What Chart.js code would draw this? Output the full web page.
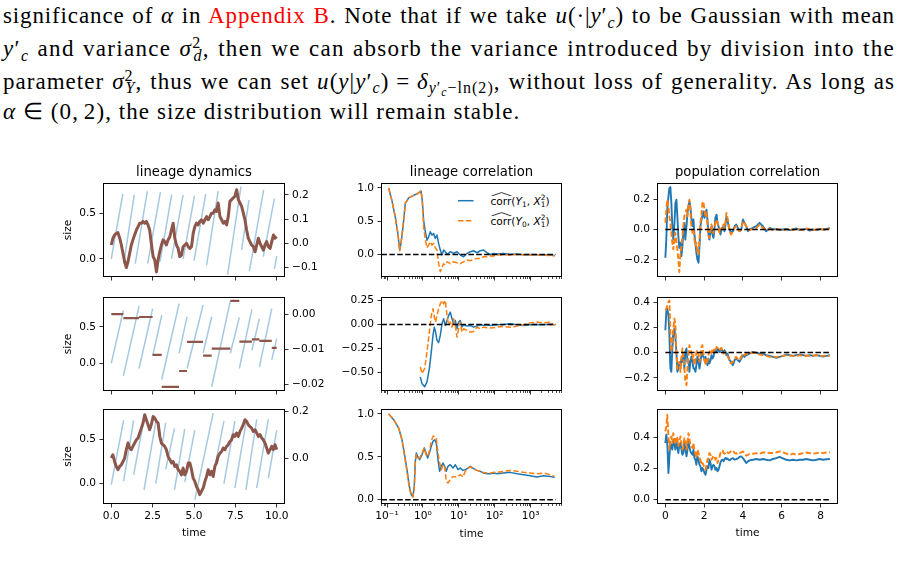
<!DOCTYPE html>
<html>
<head>
<meta charset="utf-8">
<script src="https://cdn.jsdelivr.net/npm/chart.js@4.4.1/dist/chart.umd.min.js"></script>
<style>
  html, body { margin:0; padding:0; background:#fff; }
  body { width:901px; height:587px; position:relative; overflow:hidden; }
  canvas { position:absolute; }
  .tl { position:absolute; left:3px; font-family:"Liberation Serif","Times New Roman",serif; font-size:23px; line-height:26px; height:26px; white-space:nowrap; color:#000; }
  .red { color:#ff0000; }
  .sb { position:relative; top:4.6px; font-size:16px; line-height:0; }
  .sp { position:relative; top:-8.3px; font-size:16px; line-height:0; }
  .sb2 { position:relative; top:3px; font-size:11.5px; line-height:0; }
  .lg { position:absolute; font-family:"DejaVu Sans",sans-serif; font-size:10.6px; line-height:12px; white-space:nowrap; color:#000; }
  .lg .s { position:relative; font-size:7.4px; line-height:0; }
  .hat { position:relative; display:inline-block; }
  .hat svg { position:absolute; left:0; top:-3px; }
</style>
</head>
<body>
<div class="tl" id="L1" style="top:3.3px">significance of <i>α</i> in <span class="red">Appendix B</span>. Note that if we take <i>u</i>(·|<i>y</i>′<span class="sb"><i>c</i></span>) to be Gaussian with mean</div>
<div class="tl" id="L2" style="top:36.3px"><i>y</i>′<span class="sb"><i>c</i></span> and variance <i>σ</i><span class="sp">2</span><span class="sb" style="margin-left:-8px"><i>d</i></span>, then we can absorb the variance introduced by division into the</div>
<div class="tl" id="L3" style="top:68.8px">parameter <i>σ</i><span class="sp">2</span><span class="sb" style="margin-left:-8px"><i>Y</i></span>, thus we can set <i>u</i>(<i>y</i>|<i>y</i>′<span class="sb"><i>c</i></span>)&#8197;=&#8197;<i>δ</i><span class="sb"><i>y</i>′<span class="sb2"><i>c</i></span>−ln(2)</span>, without loss of generality. As long as</div>
<div class="tl" id="L4" style="top:99.3px"><i>α</i>&#8197;∈&#8197;(0,&#8198;2), the size distribution will remain stable.</div>

<div class="lg" style="left:490.5px;top:194.5px"><span class="hat">corr<svg width="21" height="4"><polyline points="0.5,4 10.5,0.6 20.5,4" stroke="#000" stroke-width="0.8" fill="none"/></svg></span>(<i>Y</i><span class="s" style="top:2.6px">1</span>, <i>X</i><span class="s" style="top:2.6px">1</span><span class="s" style="top:-4.2px;margin-left:-4.7px">2</span>)</div>
<div class="lg" style="left:490.5px;top:214.5px"><span class="hat">corr<svg width="21" height="4"><polyline points="0.5,4 10.5,0.6 20.5,4" stroke="#000" stroke-width="0.8" fill="none"/></svg></span>(<i>Y</i><span class="s" style="top:2.6px">0</span>, <i>X</i><span class="s" style="top:2.6px">1</span><span class="s" style="top:-4.2px;margin-left:-4.7px">2</span>)</div>

<script>
// ================= DATA =================
// ---- column 1: lineage dynamics ----
const brownTimes = [0,0.10,0.20,0.30,0.40,0.51,0.61,0.71,0.81,0.91,1.01,1.11,1.21,1.31,1.41,1.52,1.62,1.72,1.82,1.92,
2.02,2.12,2.22,2.32,2.42,2.53,2.63,2.73,2.83,2.93,3.03,3.13,3.23,3.33,3.43,3.54,3.64,3.74,3.84,3.94,
4.04,4.14,4.24,4.34,4.44,4.55,4.65,4.75,4.85,4.95,5.05,5.15,5.25,5.35,5.45,5.56,5.66,5.76,5.86,5.96,
6.06,6.16,6.26,6.36,6.46,6.57,6.67,6.77,6.87,6.97,7.07,7.17,7.27,7.37,7.47,7.58,7.68,7.78,7.88,7.98,
8.08,8.18,8.28,8.38,8.48,8.59,8.69,8.79,8.89,8.99,9.09,9.19,9.29,9.39,9.49,9.60,9.70,9.80,9.90,10.0];

const r1Brown = [-0.007,0.021,0.034,0.041,0.044,0.021,-0.007,-0.042,-0.076,-0.100,
-0.076,-0.042,-0.007,0.014,0.034,0.055,0.069,0.083,0.083,0.090,
0.083,0.090,0.076,0.055,0.000,-0.055,-0.069,-0.118,-0.069,-0.035,
-0.007,0.014,0.007,-0.007,0.014,0.027,0.055,0.083,0.021,-0.007,
-0.021,-0.055,-0.049,-0.014,-0.007,0.000,-0.014,-0.021,-0.014,0.041,
0.069,0.083,0.076,0.090,0.097,0.083,0.097,0.110,0.097,0.110,
0.124,0.124,0.138,0.131,0.166,0.110,0.097,0.083,0.090,0.076,
0.110,0.173,0.180,0.187,0.193,0.221,0.180,0.166,0.152,0.124,
0.097,0.055,0.021,0.007,-0.007,-0.014,-0.035,-0.007,0.021,0.000,
-0.014,-0.028,-0.007,0.007,-0.014,-0.021,0.007,0.034,0.021,0.027];

const r3Brown = [0.000,0.014,-0.015,-0.036,-0.050,-0.036,-0.029,-0.015,0.000,0.036,
0.064,0.043,0.036,0.050,0.064,0.078,0.086,0.107,0.128,0.150,
0.185,0.164,0.143,0.121,0.143,0.178,0.171,0.157,0.150,0.093,
0.064,0.057,0.050,0.036,0.007,-0.007,-0.021,-0.015,-0.036,-0.029,
-0.050,-0.057,-0.072,-0.043,-0.072,-0.057,-0.021,-0.021,-0.050,-0.086,
-0.100,-0.122,-0.136,-0.157,-0.143,-0.128,-0.100,-0.079,-0.050,-0.072,
-0.057,-0.079,-0.036,-0.021,0.007,0.021,0.028,0.043,0.036,0.050,
0.057,0.071,0.078,0.100,0.093,0.107,0.093,0.114,0.128,0.143,
0.164,0.157,0.143,0.135,0.128,0.114,0.121,0.107,0.093,0.100,
0.086,0.078,0.064,0.043,0.021,0.036,0.050,0.036,0.057,0.036];

const r1BirthT    = [0, 0.75, 1.45, 2.2, 2.95, 3.64, 4.34, 5.0, 5.76, 7.03, 7.88, 8.35, 9.19, 9.86];
const r1DivT      = [0.70, 1.39, 2.18, 2.97, 3.65, 4.34, 5.03, 5.71, 6.46, 7.84, 8.32, 9.21, 9.86, 10.0];
const r1BirthSize = [0.0, -0.05, -0.05, -0.05, -0.03, 0.0, 0.0, -0.02, -0.07, -0.17, 0.10, -0.13, 0.025, -0.11];
const r1DivSize   = [0.71, 0.70, 0.74, 0.73, 0.70, 0.70, 0.69, 0.71, 0.74, 0.79, 0.645, 0.755, 0.66, 0.03];

const r2BirthT    = [0, 0.73, 1.68, 2.5, 3.05, 4.1, 4.58, 5.55, 6.07, 7.2, 7.74, 8.5, 8.95, 9.7];
const r2DivT      = [0.73, 1.68, 2.5, 3.05, 4.1, 4.58, 5.55, 6.07, 7.2, 7.74, 8.5, 8.95, 9.7, 10.0];
const r2BirthSize = [0.0, -0.17, -0.07, 0.10, -0.22, 0.14, -0.07, 0.14, -0.32, 0.14, -0.07, 0.18, -0.05, 0.05];
const r2DivSize   = [0.727, 0.786, 0.75, 0.66, 0.82, 0.64, 0.80, 0.64, 0.86, 0.63, 0.74, 0.61, 0.75, 0.34];
const r2Brown     = [0.0, -0.0011, -0.0008, -0.0116, -0.0207, -0.0162, -0.0079, -0.0118, -0.0098, 0.0038, -0.0078, -0.0072, -0.0076, -0.0096];

const r3BirthT    = [0, 0.745, 1.35, 1.98, 2.69, 3.29, 3.82, 4.44, 5.05, 6.16, 6.81, 7.47, 8.14, 8.79, 9.49];
const r3DivT      = [0.745, 1.35, 1.98, 2.69, 3.29, 3.82, 4.44, 5.05, 6.16, 6.81, 7.47, 8.14, 8.79, 9.49, 10.0];
const r3BirthSize = [-0.01, 0.03, 0.10, -0.07, 0.0, 0.16, -0.07, 0.02, -0.18, 0.10, 0.0, -0.05, -0.07, -0.05, 0.06];
const r3DivSize   = [0.71, 0.71, 0.72, 0.69, 0.68, 0.62, 0.61, 0.60, 0.79, 0.70, 0.70, 0.68, 0.72, 0.72, 0.60];

// ---- column 2: lineage correlation (log time) ----
const r1c2Times = [0.111,0.137,0.170,0.202,0.225,0.245,0.279,0.324,0.401,0.55,0.713,0.883,0.962,1.047,1.17,1.30,1.44,1.61,1.79,1.99,
2.21,2.47,2.74,3.05,3.40,3.78,4.21,4.69,5.80,7.18,8.89,11.0,13.6,16.9,20.9,25.9,32.1,39.7,49.2,61.0,
75.4,93.3,116,177,272,417,640,977,1503,2307,3540,4680];
const r1c2Blue = [1.0,0.81,0.56,0.30,0.065,0.166,0.415,0.77,0.85,0.89,0.915,0.955,0.81,0.51,0.34,0.215,0.265,0.34,0.29,0.315,
0.24,0.29,0.166,0.065,-0.01,0.065,0.04,0.0,0.04,0.015,0.04,-0.01,-0.035,0.015,0.04,0.055,0.025,0.055,0.065,0.025,
0.0,0.015,0.005,0.015,0.0,0.005,-0.005,0.0,-0.005,-0.01,-0.005,-0.015];
const r1c2Orange = [1.0,0.81,0.56,0.315,0.055,0.166,0.415,0.77,0.85,0.89,0.915,0.955,0.81,0.415,0.215,0.10,0.14,0.19,0.14,0.166,
0.10,0.065,-0.14,-0.26,-0.19,-0.14,-0.16,-0.11,-0.14,-0.11,-0.125,-0.14,-0.11,-0.085,-0.095,-0.075,-0.06,-0.06,-0.035,-0.035,
-0.02,-0.025,-0.01,-0.005,-0.01,0.0,-0.005,-0.01,-0.005,-0.01,-0.015,-0.025];

const r2c2Times = [0.847,0.942,1.117,1.30,1.51,1.71,1.91,2.08,2.26,2.47,2.74,3.05,3.40,3.78,4.21,4.69,5.21,5.80,6.45,7.18,
8.0,8.89,9.89,11.0,12.2,13.6,16.9,20.9,25.9,32.1,39.7,49.2,61.0,75.4,116,177,272,417,640,977,1503,2307,3540,4680];
const r2c2Blue = [-0.543,-0.612,-0.646,-0.594,-0.457,-0.286,-0.114,-0.028,-0.079,-0.165,-0.189,-0.114,0.007,0.058,-0.01,0.041,0.093,0.127,0.058,0.007,
0.041,-0.045,0.024,0.041,-0.028,-0.003,-0.017,-0.01,-0.028,-0.017,-0.003,-0.01,-0.003,-0.01,-0.003,0.0,0.007,-0.003,-0.01,-0.003,
0.0,-0.003,0.003,-0.003];
const r2c2Orange = [-0.44,-0.509,-0.457,-0.286,-0.079,0.093,0.162,0.076,0.024,0.093,0.162,0.213,0.248,0.213,0.248,0.093,-0.01,0.024,-0.028,0.058,
-0.01,-0.131,-0.045,0.024,-0.079,-0.045,-0.062,-0.079,-0.072,-0.028,-0.045,-0.028,-0.034,-0.038,-0.028,-0.021,-0.028,-0.017,-0.003,0.017,
0.024,0.017,0.024,-0.01];

const r3c2Times = [0.111,0.153,0.211,0.261,0.303,0.360,0.418,0.475,0.528,0.575,0.614,0.655,0.713,0.811,0.942,1.094,1.22,1.355,1.51,1.71,
1.91,2.12,2.36,2.63,2.92,3.26,3.62,4.03,4.49,4.99,5.80,6.88,8.0,9.48,11.0,13.1,15.2,18.0,20.9,25.9,
32.1,39.7,49.2,61.0,75.4,93.3,116,177,272,417,640,977,1503,2307,3540,4680];
const r3c2Blue = [1.0,0.934,0.836,0.70,0.544,0.35,0.156,0.058,0.039,0.156,0.447,0.544,0.505,0.467,0.525,0.603,0.544,0.486,0.544,0.622,
0.681,0.70,0.661,0.467,0.331,0.389,0.428,0.389,0.331,0.389,0.408,0.369,0.408,0.35,0.369,0.342,0.35,0.369,0.389,0.362,
0.342,0.331,0.311,0.304,0.304,0.311,0.304,0.311,0.319,0.304,0.292,0.28,0.265,0.28,0.272,0.26];
const r3c2Orange = [1.0,0.934,0.836,0.70,0.525,0.331,0.136,0.047,0.031,0.136,0.428,0.525,0.486,0.486,0.544,0.603,0.525,0.505,0.564,0.681,
0.739,0.739,0.72,0.544,0.428,0.35,0.408,0.389,0.214,0.195,0.233,0.272,0.265,0.272,0.292,0.265,0.331,0.369,0.381,0.362,
0.342,0.331,0.319,0.311,0.311,0.319,0.319,0.331,0.342,0.331,0.319,0.311,0.304,0.311,0.292,0.272];
const corrZeroSpan = [0.07, 5000];

// ---- column 3: population correlation ----
const c3Times = [0.00,0.05,0.10,0.16,0.21,0.26,0.31,0.36,0.41,0.47,0.52,0.57,0.62,0.67,0.72,0.78,0.83,0.88,0.93,0.98,
1.03,1.09,1.14,1.19,1.24,1.29,1.34,1.40,1.45,1.50,1.55,1.60,1.65,1.71,1.76,1.81,1.86,1.91,1.96,2.02,
2.07,2.12,2.17,2.22,2.27,2.33,2.38,2.43,2.48,2.53,2.58,2.64,2.69,2.74,2.79,2.84,2.89,2.95,3.00,3.05,
3.10,3.15,3.20,3.26,3.31,3.39,3.48,3.57,3.65,3.74,3.82,3.91,4.00,4.08,4.17,4.26,4.34,
4.51,4.69,4.86,5.03,5.20,5.38,5.55,5.72,5.89,6.06,6.24,6.41,6.58,6.75,6.93,7.10,7.27,7.44,7.61,7.79,7.96,8.13,8.30,8.48];

const r1c3Blue = [-0.186,-0.066,0.131,0.219,0.274,0.280,0.175,0.022,-0.066,0.044,
0.175,0.197,0.087,-0.044,-0.120,-0.087,-0.175,-0.109,-0.022,0.044,
-0.066,0.022,0.109,0.153,0.186,0.153,0.077,0.022,0.066,-0.033,
-0.087,-0.153,-0.197,-0.219,-0.109,0.022,0.066,0.087,0.120,0.077,
0.109,0.131,0.066,-0.022,-0.066,-0.011,0.022,-0.033,-0.055,0.000,
0.077,0.098,0.044,0.022,-0.011,-0.033,0.000,0.011,0.022,-0.011,
0.033,0.087,0.066,0.022,0.000,
-0.022,-0.011,0.022,0.033,0.011,-0.011,0.000,0.066,0.044,0.022,-0.011,0.000,
0.011,0.022,0.044,0.022,-0.011,0.011,0.000,0.004,-0.004,0.000,0.004,-0.004,0.000,0.007,-0.004,0.000,0.004,-0.007,0.000,-0.004,0.004,0.000,0.004,0.009];
const r1c3Orange = [0.044,0.131,0.197,0.153,0.087,0.044,-0.022,-0.087,-0.131,-0.066,
-0.022,-0.087,-0.131,-0.197,-0.280,-0.153,-0.109,-0.044,0.022,0.087,
0.109,0.131,0.087,0.164,0.197,0.131,0.022,-0.022,0.000,-0.066,
-0.109,-0.087,-0.142,-0.164,-0.066,0.044,0.098,0.175,0.186,0.131,
0.087,0.109,0.044,-0.044,-0.055,0.000,0.033,-0.011,-0.022,0.011,
0.044,0.066,0.044,0.011,-0.022,-0.011,0.011,0.000,0.033,0.011,
0.055,0.109,0.077,0.044,-0.011,
-0.033,-0.011,0.011,0.022,0.000,-0.011,0.000,0.055,0.044,0.022,0.000,-0.004,
0.004,0.011,0.033,0.011,-0.004,0.004,-0.004,0.000,0.000,-0.004,0.000,0.004,-0.004,0.004,0.000,-0.004,0.007,0.000,-0.004,0.000,0.009,0.000,0.000,0.007];

const r2c3Blue = [0.176,0.321,0.348,0.295,0.137,-0.127,-0.153,0.032,0.163,0.190,
0.111,0.005,-0.153,-0.127,-0.074,-0.100,-0.048,-0.074,-0.021,-0.127,
0.005,0.032,-0.074,-0.061,-0.153,-0.074,-0.034,-0.074,-0.127,-0.127,
-0.153,-0.100,-0.034,-0.074,-0.127,-0.074,-0.021,0.005,-0.034,-0.061,
-0.034,-0.074,-0.100,-0.048,-0.087,-0.061,-0.021,-0.048,-0.034,0.005,
0.018,0.005,0.032,0.018,0.005,0.018,0.032,0.010,0.005,0.018,
0.005,-0.021,-0.008,-0.034,-0.061,
-0.074,-0.100,-0.061,-0.048,-0.061,-0.074,-0.048,-0.021,-0.034,-0.021,-0.016,-0.008,
0.005,-0.003,-0.008,-0.008,-0.021,-0.027,-0.034,-0.042,-0.034,-0.027,-0.016,-0.021,-0.027,-0.021,-0.016,-0.021,-0.027,-0.021,-0.027,-0.021,-0.027,-0.032,-0.027,-0.021];
const r2c3Orange = [0.334,0.348,0.374,0.400,0.413,0.163,0.005,0.084,0.190,0.269,
0.216,0.005,-0.127,-0.100,-0.074,-0.153,-0.048,0.032,-0.034,-0.127,
-0.219,-0.259,-0.127,-0.021,0.058,0.032,0.005,-0.048,-0.021,-0.100,
-0.061,0.005,0.018,-0.021,-0.074,-0.034,0.044,0.058,-0.008,-0.061,
-0.100,-0.048,-0.074,-0.021,0.005,0.018,-0.008,0.032,0.005,0.032,
0.018,0.044,0.037,0.026,0.018,0.032,0.037,0.005,-0.008,0.005,
-0.008,-0.021,-0.021,-0.048,-0.079,
-0.087,-0.074,-0.048,-0.034,-0.053,-0.061,-0.034,-0.008,-0.021,-0.008,-0.011,-0.008,
0.000,-0.008,-0.016,-0.021,-0.027,-0.034,-0.032,-0.037,-0.029,-0.027,-0.021,-0.024,-0.029,-0.027,-0.021,-0.027,-0.024,-0.027,-0.024,-0.021,-0.027,-0.027,-0.024,-0.027];

const r3c3Blue = [0.363,0.417,0.363,0.171,0.278,0.363,0.342,0.321,0.385,0.353,
0.321,0.374,0.342,0.299,0.353,0.363,0.321,0.288,0.299,0.363,
0.331,0.278,0.321,0.374,0.342,0.310,0.299,0.288,0.321,0.267,
0.256,0.224,0.278,0.256,0.224,0.214,0.182,0.203,0.192,0.171,
0.160,0.192,0.214,0.203,0.256,0.235,0.192,0.214,0.224,0.214,
0.192,0.203,0.182,0.192,0.214,0.239,0.252,0.256,0.246,0.261,
0.267,0.261,0.265,0.256,0.252,
0.261,0.267,0.256,0.261,0.265,0.274,0.278,0.267,0.252,0.235,0.246,0.252,
0.256,0.261,0.256,0.261,0.256,0.252,0.261,0.267,0.274,0.265,0.256,0.252,0.256,0.252,0.256,0.256,0.261,0.256,0.252,0.256,0.261,0.256,0.259,0.261];
const r3c3Orange = [0.438,0.470,0.545,0.406,0.321,0.385,0.406,0.363,0.427,0.385,
0.353,0.406,0.395,0.342,0.374,0.406,0.363,0.321,0.342,0.395,
0.385,0.321,0.363,0.427,0.395,0.353,0.342,0.331,0.363,0.310,
0.299,0.267,0.321,0.299,0.267,0.256,0.224,0.235,0.224,0.203,
0.192,0.224,0.256,0.267,0.299,0.288,0.256,0.267,0.282,0.278,
0.256,0.267,0.235,0.256,0.274,0.299,0.310,0.316,0.299,0.295,
0.299,0.310,0.303,0.299,0.303,
0.310,0.316,0.299,0.295,0.303,0.299,0.303,0.310,0.299,0.282,0.288,0.293,
0.295,0.299,0.295,0.303,0.303,0.299,0.299,0.303,0.310,0.303,0.295,0.288,0.295,0.288,0.293,0.299,0.303,0.299,0.295,0.299,0.303,0.299,0.303,0.304];

// ---- tick values ----
const c1XTicks = [0, 2.5, 5, 7.5, 10];
const c1LeftTicks = [0, 0.5];
const r1c1RightTicks = [-0.1, 0, 0.1, 0.2];
const r2c1RightTicks = [-0.02, -0.01, 0];
const r3c1RightTicks = [0, 0.2];
const c2XMajor = [0.1, 1, 10, 100, 1000];
const c2XLabels = ['10\u207B\u00B9', '10\u2070', '10\u00B9', '10\u00B2', '10\u00B3'];
const r1c2YTicks = [0, 0.5, 1.0];
const r2c2YTicks = [-0.5, -0.25, 0, 0.25];
const r3c2YTicks = [0, 0.5, 1.0];
const c3XTicks = [0, 2, 4, 6, 8];
const r1c3YTicks = [-0.2, 0, 0.2];
const r2c3YTicks = [-0.2, 0, 0.2, 0.4];
const r3c3YTicks = [0, 0.2, 0.4];

// ================= RENDERING =================
const INK = '#000';
const BLUE = '#1f77b4', ORANGE = '#ff7f0e', BROWN = '#8c564b', LIGHTBLUE = 'rgba(31,119,180,0.4)';
const DASH = [5.5, 2.4];
const ML = 55, MR = 45, MT = 25, MB = 45;
Chart.defaults.font.family = "'DejaVu Sans', sans-serif";
Chart.defaults.font.size = 10.6;
Chart.defaults.color = INK;

const C1 = {l:103, r:285}, C2 = {l:381, r:562}, C3 = {l:657, r:838};
const R1 = {t:183, b:277}, R2 = {t:297, b:391}, R3 = {t:409, b:504};

const fmt = d => v => { const s = Number(v).toFixed(d); return s.charAt(0) === '-' ? '\u2212' + s.slice(1) : s; };
const pts = (xs, ys) => xs.map((x, i) => ({ x: x, y: ys[i] }));
function segs(t0, t1, v0, v1) {
  const out = [];
  t0.forEach((t, i) => { out.push({x: t, y: v0[i]}, {x: t1[i], y: v1[i]}, {x: t1[i], y: null}); });
  return out;
}

// log minor ticks (axis decoration)
const c2XMinor = [];
[0.01, 0.1, 1, 10, 100, 1000].forEach(p => { for (let k = 2; k <= 9; k++) c2XMinor.push(+(p * k).toPrecision(3)); });

const deco = {
  id: 'deco',
  afterDatasetsDraw(chart, args, o) {
    const ctx = chart.ctx, a = chart.chartArea;
    ctx.save();
    if (o.minor) {
      const sx = chart.scales.x;
      ctx.strokeStyle = INK; ctx.lineWidth = 0.7;
      o.minor.forEach(v => {
        if (v < sx.min || v > sx.max) return;
        const px = Math.round(sx.getPixelForValue(v)) + 0.5;
        ctx.beginPath(); ctx.moveTo(px, a.bottom); ctx.lineTo(px, a.bottom + 2); ctx.stroke();
      });
    }
    if (o.legend) {
      const x0 = a.left + 77, x1 = a.left + 92.5;
      ctx.lineWidth = 1.5;
      ctx.strokeStyle = BLUE; ctx.setLineDash([]);
      ctx.beginPath(); ctx.moveTo(x0, a.top + 17.7); ctx.lineTo(x1, a.top + 17.7); ctx.stroke();
      ctx.strokeStyle = ORANGE; ctx.setLineDash(DASH);
      ctx.beginPath(); ctx.moveTo(x0, a.top + 37.7); ctx.lineTo(x1, a.top + 37.7); ctx.stroke();
      ctx.setLineDash([]);
    }
    ctx.strokeStyle = INK; ctx.lineWidth = 1;
    ctx.strokeRect(a.left + 0.5, a.top + 0.5, a.right - a.left - 1, a.bottom - a.top - 1);
    if (o.title) {
      ctx.fillStyle = INK; ctx.font = "13.2px 'DejaVu Sans'";
      ctx.textAlign = 'center'; ctx.textBaseline = 'alphabetic';
      ctx.fillText(o.title, (a.left + a.right) / 2, a.top - 6.7);
    }
    ctx.restore();
  }
};

function axis(o) {
  const ax = {
    type: o.type || 'linear', position: o.position, min: o.min, max: o.max, bounds: 'data',
    afterFit: s => { if (s.isHorizontal()) s.height = MB; else s.width = (o.position === 'right' ? MR : ML); },
    afterBuildTicks: s => { s.ticks = o.ticks.map(v => ({ value: v })); },
    ticks: { display: o.labels !== false, callback: o.fmt, padding: o.pad, autoSkip: false, maxRotation: 0, minRotation: 0, color: INK, font: { size: 10.6 } },
    grid: { display: true, drawOnChartArea: false, drawTicks: true, tickLength: 3.5, tickColor: INK, tickWidth: 0.8 },
    border: { display: false },
    title: { display: false }
  };
  if (o.title) ax.title = { display: true, text: o.title, color: INK, font: { size: 10.6 }, padding: o.titlePad };
  return ax;
}

function makePanel(col, row, datasets, scales, decoOpts, hasRight) {
  const W = col.r - col.l + ML + MR, H = row.b - row.t + MT + MB;
  const cv = document.createElement('canvas');
  cv.width = W; cv.height = H;
  cv.style.left = (col.l - ML) + 'px'; cv.style.top = (row.t - MT) + 'px';
  cv.style.width = W + 'px'; cv.style.height = H + 'px';
  document.body.appendChild(cv);
  return new Chart(cv.getContext('2d'), {
    type: 'line',
    data: { datasets: datasets },
    options: {
      responsive: false, animation: false, devicePixelRatio: 1,
      layout: { padding: { left: 0, top: MT, right: hasRight ? 0 : MR, bottom: 0 } },
      plugins: { legend: { display: false }, tooltip: { enabled: false }, deco: decoOpts },
      elements: { point: { radius: 0 }, line: { tension: 0 } },
      scales: scales
    },
    plugins: [deco]
  });
}

const line = (data, color, width, dash, yAxisID) => ({ data: data, borderColor: color, borderWidth: width, borderDash: dash || [], pointRadius: 0, fill: false, spanGaps: false, yAxisID: yAxisID || 'y', borderCapStyle: 'butt', borderJoinStyle: 'round' });

// ---------- column 1 ----------
function col1(row, isLast, leftRange, rightRange, rightTicks, rightDec, blueData, brownData, brownWidth, title) {
  makePanel(C1, row, [
    line(brownData, BROWN, brownWidth, null, 'y2'),
    line(blueData, LIGHTBLUE, 1.5, null, 'y')
  ], {
    x: axis({ position: 'bottom', min: -0.5, max: 10.5, ticks: c1XTicks, fmt: fmt(1), labels: isLast, pad: 2, title: isLast ? 'time' : null, titlePad: { top: 0, bottom: 9.6 } }),
    y: axis({ position: 'left', min: leftRange[0], max: leftRange[1], ticks: c1LeftTicks, fmt: fmt(1), pad: 3.5, title: 'size', titlePad: { top: 13.9, bottom: 0 } }),
    y2: axis({ position: 'right', min: rightRange[0], max: rightRange[1], ticks: rightTicks, fmt: fmt(rightDec), pad: 3.5 })
  }, { title: title }, true);
}
col1(R1, false, [-0.197, 0.83], [-0.139, 0.2486], r1c1RightTicks, 1,
  segs(r1BirthT, r1DivT, r1BirthSize, r1DivSize), pts(brownTimes, r1Brown), 3, 'lineage dynamics');
col1(R2, false, [-0.378, 0.91], [-0.0219, 0.0049], r2c1RightTicks, 2,
  segs(r2BirthT, r2DivT, r2BirthSize, r2DivSize), segs(r2BirthT, r2DivT, r2Brown, r2Brown), 2.2, null);
col1(R3, true, [-0.227, 0.836], [-0.197, 0.210], r3c1RightTicks, 1,
  segs(r3BirthT, r3DivT, r3BirthSize, r3DivSize), pts(brownTimes, r3Brown), 3, null);

// ---------- column 2 ----------
function col2(row, isLast, yRange, yTicks, yDec, xs, blue, orange, opts) {
  makePanel(C2, row, [
    line(pts(corrZeroSpan, [0, 0]), INK, 1.5, DASH),
    line(pts(xs, orange), ORANGE, 1.5, DASH),
    line(pts(xs, blue), BLUE, 1.5)
  ], {
    x: axis({ type: 'logarithmic', position: 'bottom', min: 0.068, max: 7500, ticks: c2XMajor, fmt: v => c2XLabels[c2XMajor.indexOf(v)] || '', labels: isLast, pad: 2, title: isLast ? 'time' : null, titlePad: { top: 0, bottom: 8.5 } }),
    y: axis({ position: 'left', min: yRange[0], max: yRange[1], ticks: yTicks, fmt: fmt(yDec), pad: 3.5 })
  }, Object.assign({ minor: c2XMinor }, opts), false);
}
col2(R1, false, [-0.34, 1.075], r1c2YTicks, 1, r1c2Times, r1c2Blue, r1c2Orange, { title: 'lineage correlation', legend: true });
col2(R2, false, [-0.689, 0.284], r2c2YTicks, 2, r2c2Times, r2c2Blue, r2c2Orange, {});
col2(R3, true, [-0.05, 1.058], r3c2YTicks, 1, r3c2Times, r3c2Blue, r3c2Orange, {});

// ---------- column 3 ----------
function col3(row, isLast, yRange, yTicks, blue, orange, title) {
  const zero = pts([c3Times[0], c3Times[c3Times.length - 1]], [0, 0]);
  makePanel(C3, row, [
    line(zero, INK, 1.5, DASH),
    line(pts(c3Times, orange), ORANGE, 1.9, DASH),
    line(pts(c3Times, blue), BLUE, 1.9)
  ], {
    x: axis({ position: 'bottom', min: -0.43, max: 8.9, ticks: c3XTicks, fmt: fmt(0), labels: isLast, pad: 2, title: isLast ? 'time' : null, titlePad: { top: 0, bottom: 9.6 } }),
    y: axis({ position: 'left', min: yRange[0], max: yRange[1], ticks: yTicks, fmt: fmt(1), pad: 3.5 })
  }, { title: title }, false);
}
col3(R1, false, [-0.313, 0.307], r1c3YTicks, r1c3Blue, r1c3Orange, 'population correlation');
col3(R2, false, [-0.305, 0.44], r2c3YTicks, r2c3Blue, r2c3Orange, null);
col3(R3, true, [-0.028, 0.582], r3c3YTicks, r3c3Blue, r3c3Orange, null);

// ---------- justify paragraph lines (letter + word spacing, like the wider TeX font) ----------
function justify() {
  const target = 892, wordExtra = 1.2;
  let lsSum = 0;
  ['L1', 'L2', 'L3'].forEach(id => {
    const el = document.getElementById(id);
    el.style.letterSpacing = '0px'; el.style.wordSpacing = '0px';
    const n = (el.textContent.match(/ /g) || []).length;
    const c = el.textContent.length;
    const w0 = el.getBoundingClientRect().width;
    const ls = Math.max(0, (target - w0 - n * wordExtra) / c);
    el.style.letterSpacing = ls + 'px';
    const w1 = el.getBoundingClientRect().width;
    el.style.wordSpacing = ((target - w1) / n) + 'px';
    lsSum += ls;
  });
  document.getElementById('L4').style.letterSpacing = (lsSum / 3) + 'px';
}
justify();
if (document.fonts && document.fonts.ready) document.fonts.ready.then(justify);
</script>
</body>
</html>
